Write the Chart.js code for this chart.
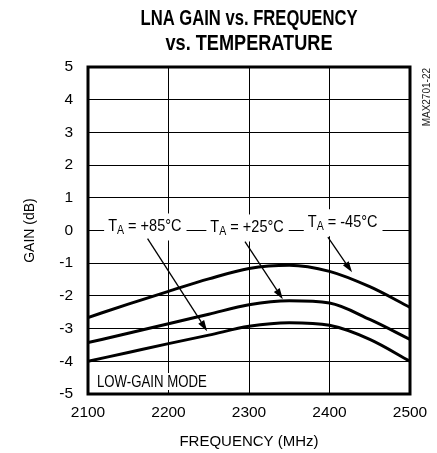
<!DOCTYPE html>
<html>
<head>
<meta charset="utf-8">
<script src="https://cdn.jsdelivr.net/npm/chart.js@4"></script>
<style>
  html, body { margin: 0; padding: 0; background: #fff; }
  #wrap { width: 437px; height: 453px; }
</style>
</head>
<body>
<div id="wrap"><canvas id="myChart" width="437" height="453"></canvas></div>
<script>
// Données
const freqs   = [2100, 2150, 2200, 2250, 2300, 2350, 2400, 2450, 2500];
const gainM45 = [-2.66, -2.25, -1.86, -1.48, -1.16, -1.06, -1.25, -1.72, -2.35];
const gainP25 = [-3.43, -3.14, -2.85, -2.56, -2.27, -2.15, -2.22, -2.72, -3.33];
const gainP85 = [-4.00, -3.73, -3.46, -3.20, -2.93, -2.82, -2.90, -3.33, -4.00];

const xTicks = [2100, 2200, 2300, 2400, 2500];
const yTicks = [-5, -4, -3, -2, -1, 0, 1, 2, 3, 4, 5];

// Étiquettes de température (début du texte, ligne de base) et flèches
const labelTemps = ['+85°C', '+25°C', '-45°C'];
const labelX     = [2125, 2252, 2373];
const labelY     = [-0.03, -0.06, 0.10];
const arrowFromX = [2174, 2295, 2398];
const arrowFromY = [-0.25, -0.34, -0.20];
const arrowToX   = [2248, 2342, 2428];
const arrowToY   = [-3.08, -2.10, -1.28];

const FONT = '"Liberation Sans Narrow", "Arial Narrow", "Liberation Sans", Arial, sans-serif';
const SX = 0.88; // compression horizontale (police étroite absente)

const toPoints = (ys) => freqs.map((f, i) => ({ x: f, y: ys[i] }));

function lineDataset(label, ys) {
    return {
        label,
        data: toPoints(ys),
        borderColor: '#000',
        borderWidth: 3,
        pointRadius: 0,
        fill: false,
        cubicInterpolationMode: 'monotone'
    };
}

// texte compressé horizontalement, renvoie la largeur dessinée
function narrowText(ctx, txt, x, y, font, sx) {
    ctx.font = font;
    const w = ctx.measureText(txt).width * sx;
    ctx.save();
    ctx.translate(x, y);
    ctx.scale(sx, 1);
    ctx.fillText(txt, 0, 0);
    ctx.restore();
    return w;
}

// Titre, annotations et cadre
const decorPlugin = {
    id: 'decor',
    afterDatasetsDraw(chart) {
        const { ctx, chartArea: a, scales: { x, y } } = chart;
        ctx.save();
        ctx.textAlign = 'left';
        ctx.textBaseline = 'alphabetic';

        // Étiquettes T_A = ...
        labelTemps.forEach((t, i) => {
            const px = x.getPixelForValue(labelX[i]);
            const py = y.getPixelForValue(labelY[i]);
            const big = `16.5px ${FONT}`, small = `12px ${FONT}`;
            const rest = ' = ' + t;
            ctx.font = big;
            const wT = ctx.measureText('T').width * SX;
            const wR = ctx.measureText(rest).width * SX;
            ctx.font = small;
            const wA = ctx.measureText('A').width * SX;
            ctx.fillStyle = '#fff';
            ctx.fillRect(px - 4, py - 18, wT + wA + wR + 9, 27);
            ctx.fillStyle = '#000';
            narrowText(ctx, 'T', px, py, big, SX);
            narrowText(ctx, 'A', px + wT, py + 3, small, SX);
            narrowText(ctx, rest, px + wT + wA, py, big, SX);
        });

        // Flèches
        ctx.strokeStyle = '#000';
        ctx.fillStyle = '#000';
        ctx.lineWidth = 1.3;
        arrowFromX.forEach((fx, i) => {
            const x0 = x.getPixelForValue(fx), y0 = y.getPixelForValue(arrowFromY[i]);
            const x1 = x.getPixelForValue(arrowToX[i]), y1 = y.getPixelForValue(arrowToY[i]);
            const ang = Math.atan2(y1 - y0, x1 - x0);
            const len = 11, half = 3.5;
            const bx = x1 - len * Math.cos(ang), by = y1 - len * Math.sin(ang);
            ctx.beginPath();
            ctx.moveTo(x0, y0);
            ctx.lineTo(bx, by);
            ctx.stroke();
            ctx.beginPath();
            ctx.moveTo(x1, y1);
            ctx.lineTo(bx + half * Math.sin(ang), by - half * Math.cos(ang));
            ctx.lineTo(bx - half * Math.sin(ang), by + half * Math.cos(ang));
            ctx.closePath();
            ctx.fill();
        });

        // LOW-GAIN MODE
        const lgFont = `16.5px ${FONT}`;
        const lg = 'LOW-GAIN MODE';
        const lx = a.left + 9, ly = a.bottom - 7;
        ctx.font = lgFont;
        ctx.fillStyle = '#fff';
        ctx.fillRect(lx - 2, ly - 14, ctx.measureText(lg).width * 0.8 + 4, 17);
        ctx.fillStyle = '#000';
        narrowText(ctx, lg, lx, ly, lgFont, 0.8);

        // Cadre épais
        ctx.lineWidth = 3;
        ctx.strokeRect(a.left, a.top, a.right - a.left, a.bottom - a.top);

        // Référence verticale
        ctx.save();
        ctx.translate(a.right + 17, a.top + 1);
        ctx.rotate(-Math.PI / 2);
        ctx.font = `10px ${FONT}`;
        ctx.fillStyle = '#222';
        ctx.textAlign = 'right';
        ctx.textBaseline = 'middle';
        ctx.fillText('MAX2701-22', 0, 0);
        ctx.restore();

        // Titre
        const cx = (a.left + a.right) / 2;
        ctx.font = `bold 22px ${FONT}`;
        ctx.textAlign = 'center';
        [['LNA GAIN vs. FREQUENCY', 25, 217], ['vs. TEMPERATURE', 49.5, 167]].forEach(([txt, ty, tw]) => {
            const mw = ctx.measureText(txt).width;
            ctx.save();
            ctx.translate(cx, ty);
            ctx.scale(tw / mw, 1);
            ctx.fillText(txt, 0, 0);
            ctx.restore();
        });

        ctx.restore();
    }
};

new Chart(document.getElementById('myChart'), {
    type: 'line',
    data: {
        datasets: [
            lineDataset('-45°C', gainM45),
            lineDataset('+25°C', gainP25),
            lineDataset('+85°C', gainP85)
        ]
    },
    options: {
        responsive: false,
        animation: false,
        layout: { padding: { left: 0, right: 27, top: 67, bottom: 0 } },
        plugins: { legend: { display: false }, tooltip: { enabled: false } },
        scales: {
            x: {
                type: 'linear',
                min: 2100, max: 2500,
                afterBuildTicks: (s) => { s.ticks = xTicks.map(v => ({ value: v })); },
                afterFit: (s) => { s.height = 59; },
                ticks: { color: '#000', font: { family: FONT, size: 15.5 }, padding: 9, maxRotation: 0, callback: (v) => String(v) },
                grid: { color: '#000', lineWidth: 1, drawTicks: false },
                border: { display: false },
                title: { display: true, text: 'FREQUENCY (MHz)', color: '#000', font: { family: FONT, size: 15 }, padding: { top: 0, bottom: 2 } }
            },
            y: {
                min: -5, max: 5,
                afterBuildTicks: (s) => { s.ticks = yTicks.map(v => ({ value: v })); },
                afterFit: (s) => { s.width = 88; },
                ticks: { color: '#000', font: { family: FONT, size: 15.5 }, padding: 15, callback: (v) => String(v) },
                grid: { color: '#000', lineWidth: 1, drawTicks: false },
                border: { display: false },
                title: { display: true, text: 'GAIN (dB)', color: '#000', font: { family: FONT, size: 14 }, padding: { top: 22, bottom: 0 } }
            }
        }
    },
    plugins: [decorPlugin]
});
</script>
</body>
</html>
